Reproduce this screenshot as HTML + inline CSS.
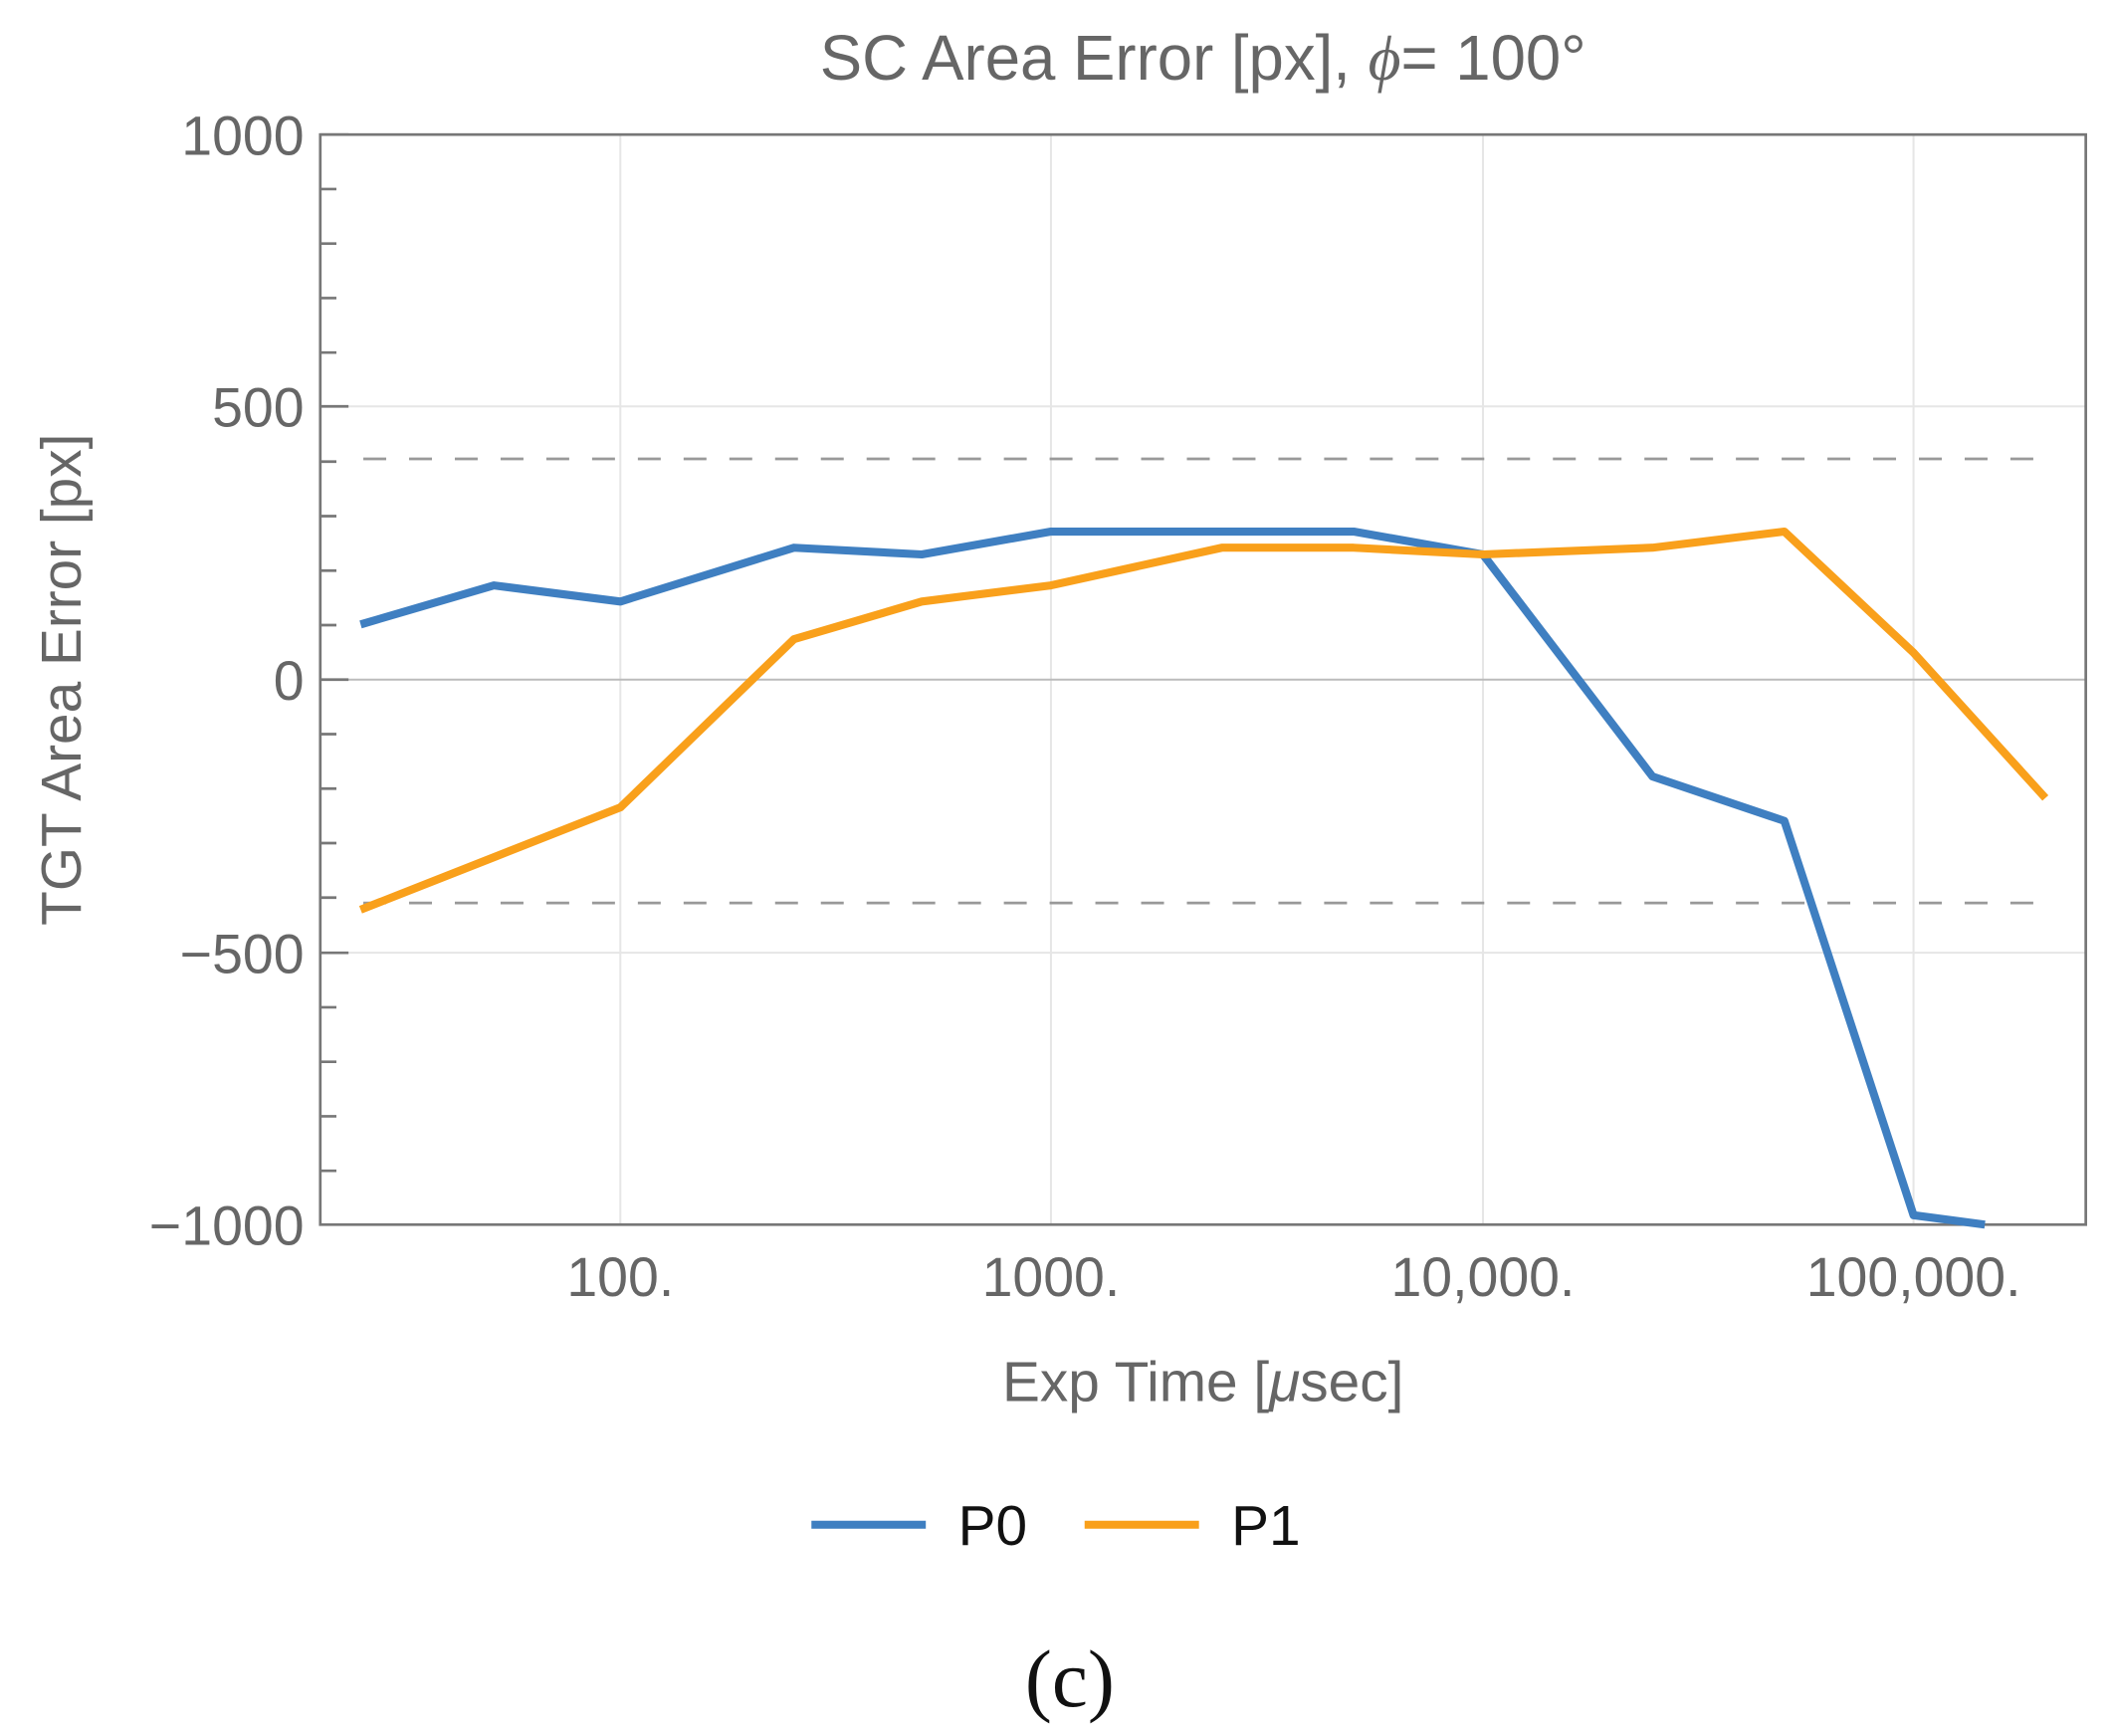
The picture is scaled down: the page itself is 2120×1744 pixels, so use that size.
<!DOCTYPE html>
<html><head><meta charset="utf-8"><style>html,body{margin:0;padding:0;background:#fff}svg{display:block}</style></head>
<body>
<svg width="2120" height="1744" viewBox="0 0 1568 1290" preserveAspectRatio="none" xmlns="http://www.w3.org/2000/svg" font-family="Liberation Sans, sans-serif">
<rect width="1568" height="1290" fill="#fff"/>
<text x="894" y="59" font-size="47" fill="#666" text-anchor="middle">SC Area Error [px], <tspan font-style="italic" font-family="Liberation Serif, serif">ϕ</tspan>= 100°</text>
<g stroke="#e6e6e6" stroke-width="1.5">
<line x1="238" y1="302" x2="1550" y2="302"/><line x1="238" y1="708" x2="1550" y2="708"/>
<line x1="461" y1="100" x2="461" y2="910"/><line x1="781" y1="100" x2="781" y2="910"/>
<line x1="1102" y1="100" x2="1102" y2="910"/><line x1="1422" y1="100" x2="1422" y2="910"/>
</g>
<line x1="238" y1="505" x2="1550" y2="505" stroke="#bbb" stroke-width="1.5"/>
<g stroke="#999" stroke-width="2" stroke-dasharray="17 17">
<line x1="270" y1="341" x2="1515" y2="341"/><line x1="270" y1="671" x2="1515" y2="671"/>
</g>
<rect x="238" y="100" width="1312" height="810" fill="none" stroke="#777" stroke-width="2"/>
<g stroke="#777" stroke-width="2">
<line x1="238" y1="100" x2="259" y2="100"/><line x1="238" y1="302" x2="259" y2="302"/><line x1="238" y1="505" x2="259" y2="505"/><line x1="238" y1="708" x2="259" y2="708"/>
<line x1="238" y1="140.5" x2="250" y2="140.5"/><line x1="238" y1="181" x2="250" y2="181"/><line x1="238" y1="221.5" x2="250" y2="221.5"/><line x1="238" y1="262" x2="250" y2="262"/>
<line x1="238" y1="343" x2="250" y2="343"/><line x1="238" y1="383.5" x2="250" y2="383.5"/><line x1="238" y1="424" x2="250" y2="424"/><line x1="238" y1="464.5" x2="250" y2="464.5"/>
<line x1="238" y1="545.5" x2="250" y2="545.5"/><line x1="238" y1="586" x2="250" y2="586"/><line x1="238" y1="626.5" x2="250" y2="626.5"/><line x1="238" y1="667" x2="250" y2="667"/>
<line x1="238" y1="748.5" x2="250" y2="748.5"/><line x1="238" y1="789" x2="250" y2="789"/><line x1="238" y1="829.5" x2="250" y2="829.5"/><line x1="238" y1="870" x2="250" y2="870"/>
</g>
<g font-size="41" fill="#666" text-anchor="end">
<text x="226" y="115">1000</text><text x="226" y="317">500</text><text x="226" y="520">0</text><text x="226" y="723">−500</text><text x="226" y="925">−1000</text>
</g>
<g font-size="41" fill="#666" text-anchor="middle">
<text x="461" y="963">100.</text><text x="781" y="963">1000.</text><text x="1102" y="963">10,000.</text><text x="1422" y="963">100,000.</text>
</g>
<text x="894" y="1041" font-size="42" fill="#666" text-anchor="middle">Exp Time [<tspan font-style="italic">μ</tspan>sec]</text>
<text transform="translate(60,505) rotate(-90)" font-size="42" fill="#666" text-anchor="middle">TGT Area Error [px]</text>
<polyline fill="none" stroke="#3f7fc1" stroke-width="6" stroke-linejoin="round" points="268,464 367,435 461,447 590,407 685,412 781,395 1006,395 1102,412 1228,577 1326,610 1422,903 1475,910"/>
<polyline fill="none" stroke="#f9a01b" stroke-width="6" stroke-linejoin="round" points="268,676 367,637 461,600 590,475 685,447 781,435 908,407 1006,407 1102,412 1228,407 1326,395 1422,485 1520,593"/>
<line x1="603" y1="1133" x2="688" y2="1133" stroke="#3f7fc1" stroke-width="6"/>
<text x="712" y="1148" font-size="42" fill="#111">P0</text>
<line x1="806" y1="1133" x2="891" y2="1133" stroke="#f9a01b" stroke-width="6"/>
<text x="915" y="1148" font-size="42" fill="#111">P1</text>
<text x="795" y="1268" font-size="60" font-family="Liberation Serif, serif" fill="#111" text-anchor="middle">(c)</text>
</svg>
</body></html>
